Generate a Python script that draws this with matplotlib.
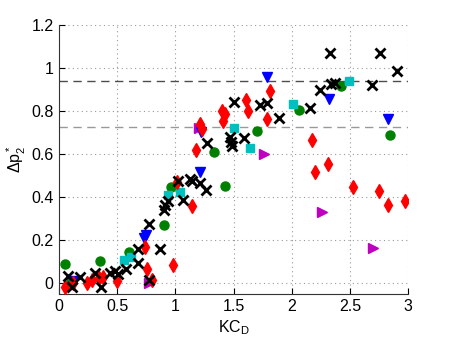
import matplotlib
matplotlib.use("Agg")
import matplotlib.pyplot as plt

plt.rcParams['font.family'] = ['Liberation Sans', 'DejaVu Sans']
plt.rcParams['mathtext.fontset'] = 'custom'
plt.rcParams['mathtext.rm'] = 'Liberation Sans'
plt.rcParams['mathtext.it'] = 'Liberation Sans'

# donnees (KC_D, delta p2*)
x_black = [0.08, 0.11, 0.18, 0.31, 0.36, 0.44, 0.48, 0.51, 0.58, 0.68, 0.68, 0.77, 0.87,
           0.77, 0.90, 0.91, 0.94, 1.02, 1.07, 1.13, 1.14, 1.21, 1.26, 1.27, 1.47, 1.48,
           1.49, 1.59, 1.50, 1.73, 1.79, 1.89, 2.16, 2.24, 2.34, 2.37, 2.69, 2.33, 2.76, 2.90]
y_black = [0.033, -0.017, 0.028, 0.049, -0.016, 0.047, 0.056, 0.041, 0.065, 0.159, 0.092, 0.014, 0.159,
           0.276, 0.34, 0.364, 0.38, 0.473, 0.388, 0.486, 0.473, 0.467, 0.435, 0.653, 0.681, 0.656,
           0.64, 0.673, 0.843, 0.827, 0.836, 0.768, 0.816, 0.90, 0.928, 0.93, 0.92, 1.069, 1.069, 0.985]

x_red = [0.05, 0.12, 0.24, 0.28, 0.34, 0.38, 0.50, 0.76, 0.80, 0.98, 0.74, 1.01, 1.14, 1.18,
         1.21, 1.23, 1.40, 1.43, 1.41, 1.61, 1.62, 1.81, 1.79, 2.17, 2.20, 2.31, 2.53, 2.75,
         2.83, 2.97]
y_red = [-0.017, 0.0, 0.003, 0.014, 0.023, 0.028, 0.009, 0.065, 0.014, 0.084, 0.168, 0.469, 0.357, 0.62,
         0.742, 0.715, 0.80, 0.785, 0.754, 0.852, 0.80, 0.893, 0.765, 0.665, 0.515, 0.555, 0.445, 0.427,
         0.365, 0.38]

x_green = [0.05, 0.35, 0.35, 0.60, 0.10, 0.96, 0.90, 1.33, 1.43, 1.70, 2.06, 2.42, 2.84]
y_green = [0.087, 0.103, 0.022, 0.143, 0.006, 0.447, 0.271, 0.609, 0.45, 0.707, 0.805, 0.917, 0.69]

x_blue = [0.12, 0.73, 0.75, 1.21, 1.22, 1.79, 2.32, 2.83]
y_blue = [0.01, 0.209, 0.224, 0.518, 0.702, 0.957, 0.858, 0.765]

x_cyan = [0.56, 0.62, 0.94, 1.04, 1.50, 1.64, 2.01, 2.49]
y_cyan = [0.107, 0.123, 0.411, 0.422, 0.72, 0.63, 0.832, 0.941]

x_mag = [0.11, 0.77, 1.20, 1.76, 2.26, 2.70]
y_mag = [0.0, 0.0, 0.72, 0.60, 0.329, 0.162]

# niveaux horizontaux
level_hi = 0.94
level_lo = 0.724

fig = plt.figure(figsize=(4.5, 3.39), dpi=100)
ax = fig.add_axes([0.131, 0.133, 0.776, 0.793])

ax.axhline(level_hi, color='0.3', ls=(0, (6, 4)), lw=1.0, zorder=1)
ax.axhline(level_lo, color='0.6', ls=(0, (6, 4)), lw=1.0, zorder=1)

ax.plot(x_mag, y_mag, ls='none', marker='>', ms=7, color='m', mec='m', zorder=3)
ax.plot(x_green, y_green, ls='none', marker='o', ms=6.5, color=(0, 0.5, 0), mec=(0, 0.5, 0), zorder=3)
ax.plot(x_cyan, y_cyan, ls='none', marker='s', ms=5.5, color=(0, 0.75, 0.75), mec=(0, 0.75, 0.75), zorder=3)
ax.plot(x_blue, y_blue, ls='none', marker='v', ms=7.5, color='b', mec='b', zorder=3.5)
ax.plot(x_red, y_red, ls='none', marker='d', ms=7.5, color='r', mec='r', zorder=4)
ax.plot(x_black, y_black, ls='none', marker='x', ms=6.5, mew=2, color='k', zorder=5)

ax.set_xlim(0, 3)
ax.set_ylim(-0.05, 1.2)
ax.set_xticks([0, 0.5, 1, 1.5, 2, 2.5, 3])
ax.set_xticklabels(['0', '0.5', '1', '1.5', '2', '2.5', '3'])
ax.set_yticks([0, 0.2, 0.4, 0.6, 0.8, 1, 1.2])
ax.set_yticklabels(['0', '0.2', '0.4', '0.6', '0.8', '1', '1.2'])
ax.tick_params(direction='in', length=4, labelsize=11.5, colors='k', pad=4)
ax.grid(True, ls=(0, (1, 3)), color='0.6', lw=0.8)
ax.set_axisbelow(True)

ax.spines['top'].set_visible(False)
ax.spines['right'].set_visible(False)
ax.spines['left'].set_color('0.2')
ax.spines['bottom'].set_color('0.2')

ax.set_xlabel(r'$\mathregular{KC_D}$', fontsize=11.5, labelpad=3)
ax.set_ylabel(r'$\mathregular{\Delta p_2^*}$', fontsize=11.5, labelpad=2)

fig.savefig('out.png', dpi=100)
